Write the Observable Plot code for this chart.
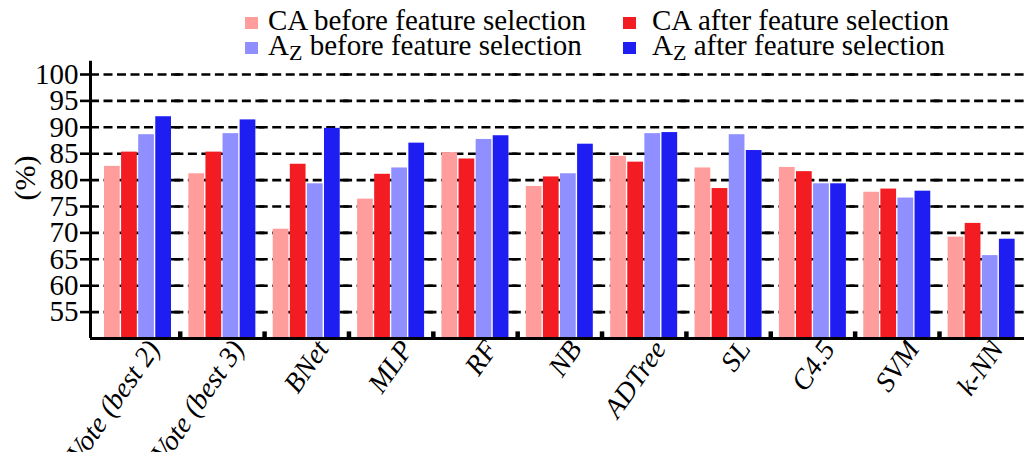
<!DOCTYPE html>
<html><head><meta charset="utf-8">
<script src="https://cdn.jsdelivr.net/npm/d3@7"></script>
<script src="https://cdn.jsdelivr.net/npm/@observablehq/plot@0.6"></script>
<style>
html,body{margin:0;padding:0;background:#fff;}
#wrap{position:relative;width:1024px;height:452px;overflow:hidden;}
#legend{position:absolute;left:0;top:0;}
#wrap svg, #wrap svg text{font-family:"Liberation Serif","Times New Roman",serif !important;}
</style></head><body><div id="wrap"></div>
<script>
const categories = ["Vote (best 2)","Vote (best 3)","BNet","MLP","RF","NB","ADTree","SL","C4.5","SVM","k-NN"];
const seriesNames = ["CA before feature selection","CA after feature selection","Az before feature selection","Az after feature selection"];
const seriesColors = ["#ff9d9d","#f31c22","#8f8fff","#1e1ef2"];
const caBefore = [82.6, 81.2, 70.7, 76.4, 85.2, 78.8, 84.5, 82.3, 82.4, 77.7, 69.2];
const caAfter  = [85.3, 85.3, 83.0, 81.1, 84.0, 80.6, 83.4, 78.4, 81.6, 78.3, 71.8];
const azBefore = [88.6, 88.8, 79.3, 82.3, 87.7, 81.2, 88.8, 88.6, 79.3, 76.6, 65.7];
const azAfter  = [92.0, 91.4, 89.8, 87.0, 88.4, 86.8, 89.0, 85.6, 79.3, 77.9, 68.8];
const yTicks = [55, 60, 65, 70, 75, 80, 85, 90, 95, 100];
const yLabel = "(%)";

const seriesValues = [caBefore, caAfter, azBefore, azAfter];
const rows = categories.flatMap((c, i) => seriesNames.map((s, j) => ({category: c, series: s, value: seriesValues[j][i]})));

const font = "'Liberation Serif', 'Times New Roman', serif";

const chart = Plot.plot({
  width: 1024, height: 452,
  marginLeft: 90, marginRight: 6, marginTop: 74, marginBottom: 114,
  style: {fontFamily: font, color: "black", background: "white", overflow: "visible"},
  fx: {domain: categories, padding: 0, round: false},
  x: {domain: seriesNames, paddingInner: 0.08, paddingOuter: 0.508, align: 0.806, round: false, axis: null},
  y: {domain: [50, 100]},
  color: {domain: seriesNames, range: seriesColors},
  marks: [
    Plot.ruleY(yTicks, {stroke: "black", strokeWidth: 2.6, strokeDasharray: "9,4.5", insetRight: -6}),
    Plot.barY(rows, {fx: "category", x: "series", y1: 50, y2: "value", fill: "series"}),
    Plot.ruleY([50], {stroke: "black", strokeWidth: 3, insetRight: -6}),
    Plot.ruleX(categories.slice(1), {fx: d => d, x: () => seriesNames[0], y1: 50, y2: 51.25, stroke: "black", strokeWidth: 4.5, dx: -16.5}),
    Plot.ruleX(categories.slice(0, 1), {fx: d => d, x: () => seriesNames[0], y1: 50, y2: 102.5, stroke: "black", strokeWidth: 3, dx: -21.86}),
    Plot.axisY({ticks: yTicks, tickSize: 10, tickPadding: 2, strokeWidth: 2.6, fontSize: 29, label: null}),
    Plot.text([yLabel], {fx: () => categories[0], frameAnchor: "left", rotate: -90, fontSize: 30, dx: -65, dy: -6, text: d => d}),
    Plot.axisFx({anchor: "bottom", tickSize: 0, tickRotate: -55, fontSize: 28, fontStyle: "italic", label: null, dx: 21, dy: -6})
  ]
});
document.getElementById("wrap").appendChild(chart);

// Legend (above the plot area)
const legendCols = [245, 623];
const legendRows = [30, 55];
const svg = d3.select("#wrap").append("svg").attr("id", "legend")
  .attr("width", 1024).attr("height", 66)
  .style("font-size", "29px");
seriesNames.forEach((name, i) => {
  const col = i % 2, row = Math.floor(i / 2);
  const x = legendCols[col], y = legendRows[row];
  svg.append("rect").attr("x", x).attr("y", y - 13).attr("width", 13).attr("height", 12).attr("fill", seriesColors[i]);
  const tx = x + 23 + col * 6;
  if (name.startsWith("Az")) {
    const a = svg.append("text").attr("x", tx).attr("y", y).attr("fill", "black").text("A");
    const wa = a.node().getComputedTextLength();
    const z = svg.append("text").attr("x", tx + wa).attr("y", y + 5).attr("fill", "black").style("font-size", "22px").text("Z");
    const wz = z.node().getComputedTextLength();
    svg.append("text").attr("x", tx + wa + wz).attr("y", y).attr("fill", "black").attr("xml:space", "preserve").style("white-space", "pre").text(name.slice(2));
  } else {
    svg.append("text").attr("x", tx).attr("y", y).attr("fill", "black").text(name);
  }
});
</script>
</body></html>
